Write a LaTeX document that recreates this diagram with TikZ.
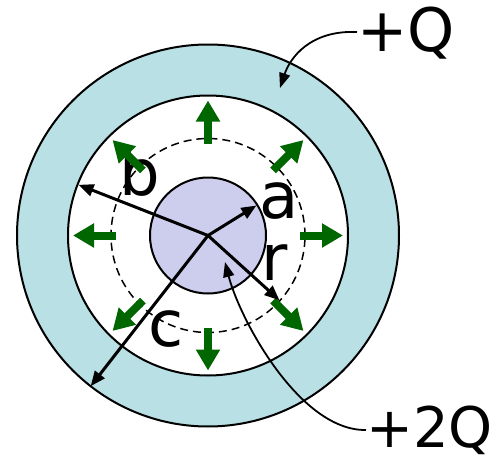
\documentclass[tikz,border=0pt]{standalone}
\usepackage{fontspec}
\setmainfont{DejaVu Sans}
\usetikzlibrary{arrows.meta,calc}
\definecolor{shell}{RGB}{185,224,228}
\definecolor{core}{RGB}{205,205,238}
\definecolor{fgreen}{RGB}{0,102,0}
\begin{document}
\begin{tikzpicture}[x=1pt,y=-1pt,
  rim/.style={draw=black,line width=2pt},
  lab/.style={anchor=base,inner sep=0pt,font=\fontsize{64}{64}\selectfont},
  qlab/.style={anchor=base west,inner sep=0pt,font=\fontsize{60}{60}\selectfont},
  garrow/.style={draw=fgreen,line width=8pt,-{Triangle[length=21pt,width=23pt]}},
  radius arrow/.style={draw=black,line width=3pt,-{Triangle[length=15pt,width=12pt]}},
  leader/.style={draw=black,line width=1.8pt,-{Triangle[length=15pt,width=11pt]}}]
\useasboundingbox (0,0) rectangle (496,463);
\coordinate (O) at (208,235.5);
% shell and sphere
\filldraw[rim,fill=shell] (O) circle (191pt);
\filldraw[rim,fill=white] (O) circle (140pt);
\draw[line width=1.5pt,dash pattern=on 8pt off 5pt] (O) circle (97pt);
\filldraw[rim,fill=core] (O) circle (58pt);
% labels
\node[lab] (la) at (279,218) {a};
\node[lab] (lb) at (140,195) {b};
\node[lab] (lr) at (275,280) {r};
\node[lab] (lc) at (166,346) {c};
% field arrows
\foreach \ang in {0,45,...,315}
  \draw[garrow] ($(O)+(\ang:92)$) -- ($(O)+(\ang:135)$);
% radius arrows
\coordinate (aE) at ($(O)+(328.2:57)$);
\coordinate (bE) at ($(O)+(201.4:139)$);
\coordinate (rE) at ($(O)+(42.2:96.5)$);
\coordinate (cE) at ($(O)+(127.9:191)$);
\draw[radius arrow] (O) -- (aE);
\draw[radius arrow] (O) -- (bE);
\draw[radius arrow] (O) -- (rE);
\draw[radius arrow] (O) -- (cE);
% charge labels
\node[qlab] (q1) at (357,52) {+Q};
\node[qlab,font=\fontsize{56}{56}\selectfont] (q2) at (366,447) {+2Q};
\coordinate (q1tip) at (280,88);
\coordinate (q2tip) at (225,262);
\draw[leader] ([yshift=20pt]q1.base west) .. controls (310,30) and (290,58) .. (q1tip);
\draw[leader] ([yshift=17pt]q2.base west) .. controls (300,431) and (240,320) .. (q2tip);
\end{tikzpicture}
\end{document}
